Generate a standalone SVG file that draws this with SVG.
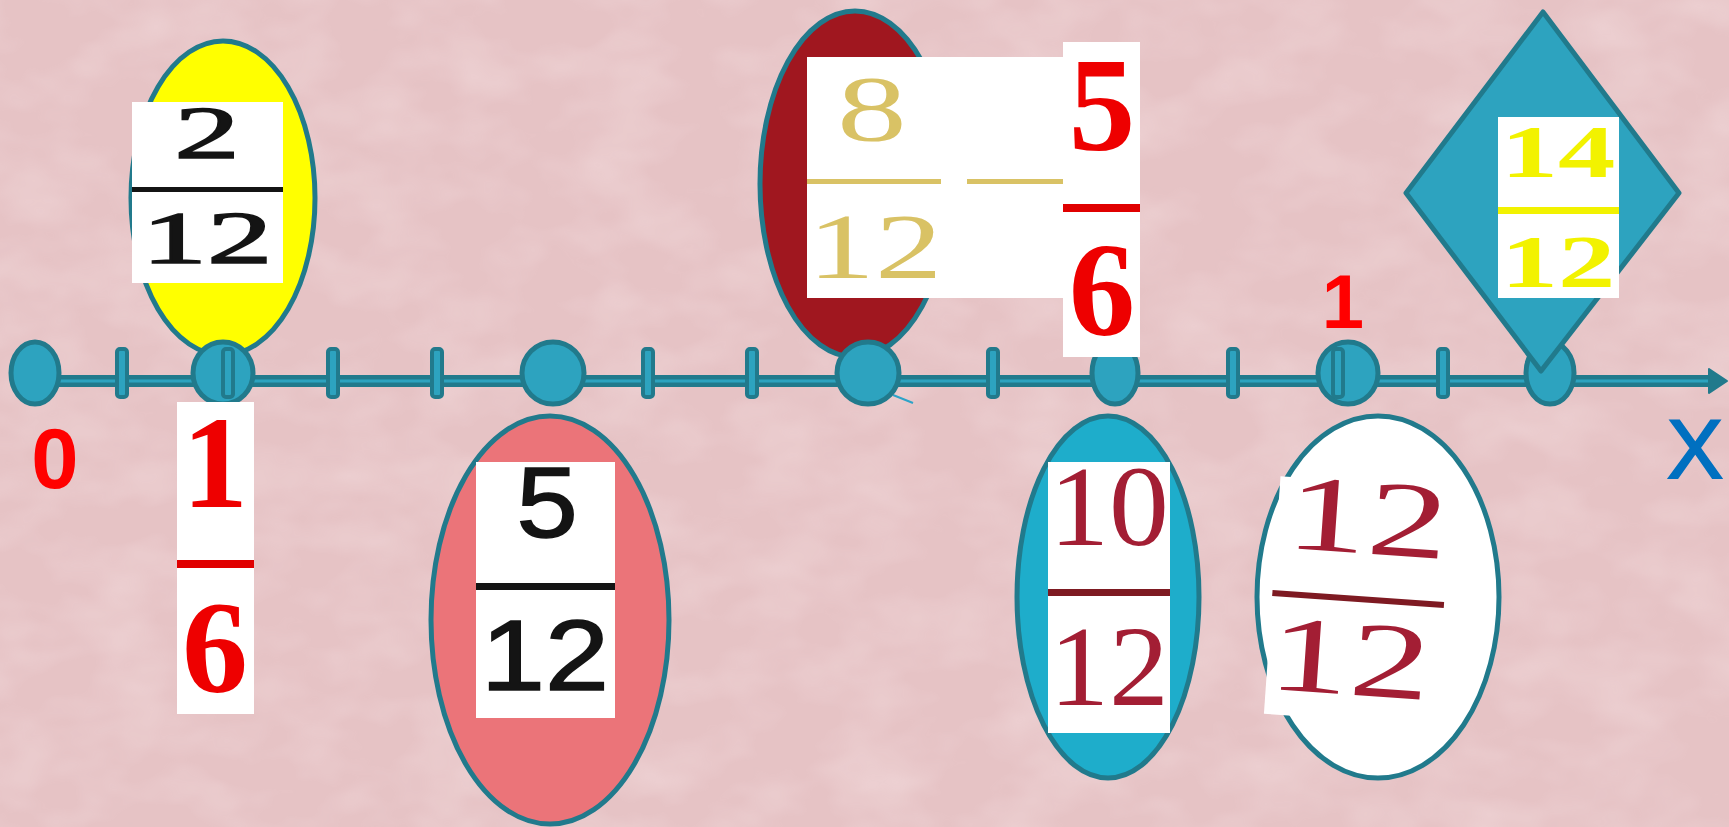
<svg xmlns="http://www.w3.org/2000/svg" width="1729" height="827" viewBox="0 0 1729 827">
<defs>
<style>
.shape{stroke:#217A8C;stroke-width:5}
.dot{fill:#2DA3BF;stroke:#217A8C;stroke-width:5}
.tick{fill:#2DA3BF;stroke:#217A8C;stroke-width:4}
.box{fill:#FFFFFF}
.serif{font-family:"Liberation Serif","Times New Roman",serif}
.sans{font-family:"Liberation Sans",Arial,sans-serif}
.b{font-weight:bold}
.blk{fill:#141414;stroke:#141414;stroke-width:1.6}
</style>
<filter id="tex" x="0" y="0" width="100%" height="100%">
<feTurbulence type="fractalNoise" baseFrequency="0.012 0.02" numOctaves="3" seed="4"/>
<feColorMatrix type="matrix" values="0 0 0 0 0.95  0 0 0 0 0.82  0 0 0 0 0.83  0 0 0 1.2 -0.45"/>
</filter>
</defs>
<rect width="1729" height="827" fill="#E6C3C5"/>
<rect width="1729" height="827" filter="url(#tex)" opacity="0.5"/>

<g id="node-2-12">
<ellipse class="shape" cx="223" cy="198" rx="92" ry="157" fill="#FFFF00"/>
<rect class="box" x="132" y="102" width="151" height="181"/>
<text class="serif blk" font-size="75" text-anchor="middle" transform="translate(207,158) scale(1.75,1)">2</text>
<rect x="132" y="187" width="151" height="5" fill="#141414"/>
<text class="serif blk" font-size="75" text-anchor="middle" transform="translate(207,263) scale(1.75,1)">12</text>
</g>

<g id="node-8-12">
<ellipse class="shape" cx="855" cy="184" rx="95" ry="173" fill="#A0171F"/>
<rect class="box" x="807" y="57" width="256" height="241"/>
<text class="serif" fill="#D9C265" font-size="93" text-anchor="middle" transform="translate(872,140) scale(1.5,1)">8</text>
<rect x="807" y="179" width="134" height="5" fill="#D9C265"/>
<rect x="967" y="179" width="96" height="5" fill="#D9C265"/>
<text class="serif" fill="#D9C265" font-size="93" text-anchor="middle" transform="translate(875,278) scale(1.45,1)">12</text>
</g>

<g id="connectors">
<line x1="40" y1="381" x2="1716" y2="381" stroke="#217A8C" stroke-width="12"/>
<line x1="40" y1="381" x2="1714" y2="381" stroke="#2DA3BF" stroke-width="3"/>
<polygon points="1709,369 1727,381 1709,393" fill="#217A8C" stroke="#217A8C" stroke-width="2" stroke-linejoin="round"/>
<line x1="893" y1="395" x2="913" y2="403" stroke="#2DA3C8" stroke-width="2"/>
</g>

<g id="axis-ticks">
<rect class="tick" x="117" y="349" width="10" height="48" rx="3"/>
<rect class="tick" x="328" y="349" width="10" height="48" rx="3"/>
<rect class="tick" x="432" y="349" width="10" height="48" rx="3"/>
<rect class="tick" x="643" y="349" width="10" height="48" rx="3"/>
<rect class="tick" x="747" y="349" width="10" height="48" rx="3"/>
<rect class="tick" x="988" y="349" width="10" height="48" rx="3"/>
<rect class="tick" x="1228" y="349" width="10" height="48" rx="3"/>
<rect class="tick" x="1438" y="349" width="10" height="48" rx="3"/>
</g>

<g id="point-0"><ellipse class="dot" cx="35" cy="373" rx="24" ry="31"/></g>
<g id="point-1-6"><ellipse class="dot" cx="223" cy="373" rx="30" ry="31"/><rect class="tick" x="223" y="349" width="10" height="48" rx="3"/></g>
<g id="point-5-12"><ellipse class="dot" cx="553" cy="373" rx="31" ry="31"/></g>
<g id="point-8-12"><ellipse class="dot" cx="868" cy="373" rx="31" ry="31"/></g>
<g id="point-10-12"><ellipse class="dot" cx="1115" cy="373" rx="23" ry="31"/></g>
<g id="point-1"><ellipse class="dot" cx="1348" cy="373" rx="30" ry="31"/><rect class="tick" x="1333" y="349" width="10" height="48" rx="3"/></g>
<g id="point-14-12"><ellipse class="dot" cx="1550" cy="373" rx="24" ry="31"/></g>

<g id="node-5-6">
<rect class="box" x="1063" y="42" width="77" height="315"/>
<text class="serif b" fill="#EE0000" font-size="133" text-anchor="middle" x="1102" y="150">5</text>
<rect x="1063" y="204" width="77" height="8" fill="#E00000"/>
<text class="serif b" fill="#EE0000" font-size="133" text-anchor="middle" x="1102" y="335">6</text>
</g>

<g id="node-14-12">
<polygon class="shape" points="1543,12 1679,193 1541,371 1406,193" fill="#2DA3BF" stroke-linejoin="round"/>
<rect class="box" x="1498" y="117" width="121" height="181"/>
<text class="serif b" fill="#F2F200" font-size="74" text-anchor="middle" transform="translate(1558,177) scale(1.55,1)">14</text>
<rect x="1498" y="207" width="121" height="7" fill="#F2F200"/>
<text class="serif b" fill="#F2F200" font-size="74" text-anchor="middle" transform="translate(1558,287) scale(1.55,1)">12</text>
</g>

<g id="node-1-6">
<rect class="box" x="177" y="402" width="77" height="312"/>
<text class="serif b" fill="#EE0000" font-size="132" text-anchor="middle" x="215" y="507">1</text>
<rect x="177" y="560" width="77" height="8" fill="#E00000"/>
<text class="serif b" fill="#EE0000" font-size="132" text-anchor="middle" x="215" y="692">6</text>
</g>

<g id="node-5-12">
<ellipse class="shape" cx="550" cy="620" rx="119" ry="204" fill="#EB7479"/>
<rect class="box" x="476" y="462" width="139" height="256"/>
<text class="sans blk" font-size="100" text-anchor="middle" transform="translate(547,537) scale(1.1,1)">5</text>
<rect x="476" y="583" width="139" height="7" fill="#141414"/>
<text class="sans blk" font-size="100" text-anchor="middle" transform="translate(545,690) scale(1.15,1)">12</text>
</g>

<g id="node-10-12">
<ellipse class="shape" cx="1108" cy="597" rx="91" ry="181" fill="#1EADCB"/>
<rect class="box" x="1048" y="462" width="122" height="271"/>
<text class="serif" fill="#A31E34" font-size="114" text-anchor="middle" transform="translate(1109,545) scale(1.05,1)">10</text>
<rect x="1048" y="589" width="122" height="7" fill="#7E1A22"/>
<text class="serif" fill="#A31E34" font-size="114" text-anchor="middle" transform="translate(1109,705) scale(1.05,1)">12</text>
</g>

<g id="node-12-12">
<ellipse class="shape" cx="1378" cy="597" rx="121" ry="181" fill="#FFFFFF"/>
<g transform="rotate(4 1358 601)">
<rect class="box" x="1272" y="482" width="172" height="238"/>
<text class="serif" fill="#A31E34" font-size="108" text-anchor="middle" transform="translate(1362,553) scale(1.5,1)">12</text>
<rect x="1272" y="596" width="172" height="6" fill="#7E1A22"/>
<text class="serif" fill="#A31E34" font-size="108" text-anchor="middle" transform="translate(1354,695) scale(1.5,1)">12</text>
</g>
</g>

<g id="label-0"><text class="sans b" fill="#FF0000" font-size="85" text-anchor="middle" x="55" y="488">0</text></g>
<g id="label-1"><text class="sans b" fill="#FF0000" font-size="76" text-anchor="middle" x="1343" y="328">1</text></g>
<g id="label-x"><text class="sans" fill="#0070C0" stroke="#0070C0" stroke-width="2" font-size="84" text-anchor="middle" x="1695" y="478">X</text></g>
</svg>
